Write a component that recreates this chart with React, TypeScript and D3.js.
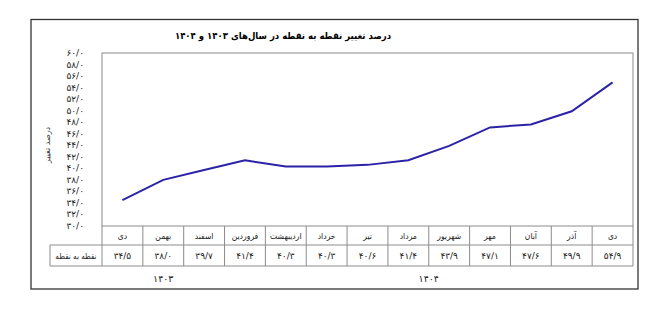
import React from "react";
import * as d3 from "d3";

const title = "درصد تغییر نقطه به نقطه در سال‌های ۱۴۰۳ و ۱۴۰۴";
const yTitle = "درصد تغییر";
const rowLabel = "نقطه به نقطه";
const months = ["دی", "بهمن", "اسفند", "فروردین", "اردیبهشت", "خرداد", "تیر", "مرداد", "شهریور", "مهر", "آبان", "آذر", "دی"];
const values = [34.5, 38.0, 39.7, 41.4, 40.3, 40.3, 40.6, 41.4, 43.9, 47.1, 47.6, 49.9, 54.9];
const yTicks = [30, 32, 34, 36, 38, 40, 42, 44, 46, 48, 50, 52, 54, 56, 58, 60];
const years = [
  { label: "۱۴۰۳", from: 0, to: 3 },
  { label: "۱۴۰۴", from: 3, to: 13 },
];

const fa = (s: string) => s.replace(/[0-9]/g, (d) => "۰۱۲۳۴۵۶۷۸۹"[+d]).replace(".", "/");
const fmt = (v: number) => fa(v.toFixed(1));

export default function App() {
  const W = 660, H = 319;
  const left = 102, right = 633, top = 53, bottom = 226;
  const row1 = 245, row2 = 266;
  const labelLeft = 50;
  const font = "DejaVu Sans, sans-serif";
  const fontC = "DejaVu Sans Condensed, DejaVu Sans, sans-serif";

  const x = d3.scaleBand<number>().domain(d3.range(months.length)).range([left, right]);
  const y = d3.scaleLinear().domain([30, 60]).range([bottom, top]);
  const line = d3.line<number>().x((_, i) => x(i)! + x.bandwidth() / 2).y((d) => y(d));

  const gridColor = "#8c8c8c";
  return (
    <svg width={W} height={H} style={{ position: "absolute", left: 0, top: 0, background: "#fff" }}>
      <rect x={0} y={0} width={W} height={H} fill="#fff" />
      <rect x={31} y={19.5} width={607} height={269.5} fill="none" stroke="#333" strokeWidth={1.3} />
      <text x={283} y={39} textAnchor="middle" fontFamily={fontC} fontSize={9.5} fontWeight="bold" fill="#000">{title}</text>
      <text transform={`translate(50,${145}) rotate(-90)`} textAnchor="middle" fontFamily={font} fontSize={8} fill="#333">{yTitle}</text>
      {yTicks.map((t) => (
        <text key={t} x={84} y={y(t) + 3} textAnchor="end" fontFamily={font} fontSize={9} fill="#222">{fmt(t)}</text>
      ))}
      <rect x={left} y={top} width={right - left} height={bottom - top} fill="none" stroke={gridColor} strokeWidth={1} />
      <path d={line(values)!} fill="none" stroke="#2c22a8" strokeWidth={2} />
      {/* table */}
      <line x1={labelLeft} x2={right} y1={row1} y2={row1} stroke={gridColor} />
      <line x1={labelLeft} x2={right} y1={row2} y2={row2} stroke={gridColor} />
      <line x1={labelLeft} x2={labelLeft} y1={row1} y2={row2} stroke={gridColor} />
      <line x1={left} x2={left} y1={bottom} y2={row2} stroke={gridColor} />
      {months.map((m, i) => (
        <g key={i}>
          <line x1={x(i)! + x.bandwidth()} x2={x(i)! + x.bandwidth()} y1={bottom} y2={row2} stroke={gridColor} />
          <text x={x(i)! + x.bandwidth() / 2} y={bottom + 13} textAnchor="middle" fontFamily={fontC} fontSize={8.5} fill="#222">{m}</text>
          <text x={x(i)! + x.bandwidth() / 2} y={row1 + 14} textAnchor="middle" fontFamily={font} fontSize={9} fill="#222">{fmt(values[i])}</text>
        </g>
      ))}
      <text x={(labelLeft + left) / 2} y={row1 + 14} textAnchor="middle" fontFamily={fontC} fontSize={8} fill="#222">{rowLabel}</text>
      {years.map((yr) => (
        <text key={yr.label} x={(x(yr.from)! + (x(yr.to - 1)! + x.bandwidth())) / 2} y={282} textAnchor="middle" fontFamily={font} fontSize={9.5} fill="#222">{yr.label}</text>
      ))}
    </svg>
  );
}
